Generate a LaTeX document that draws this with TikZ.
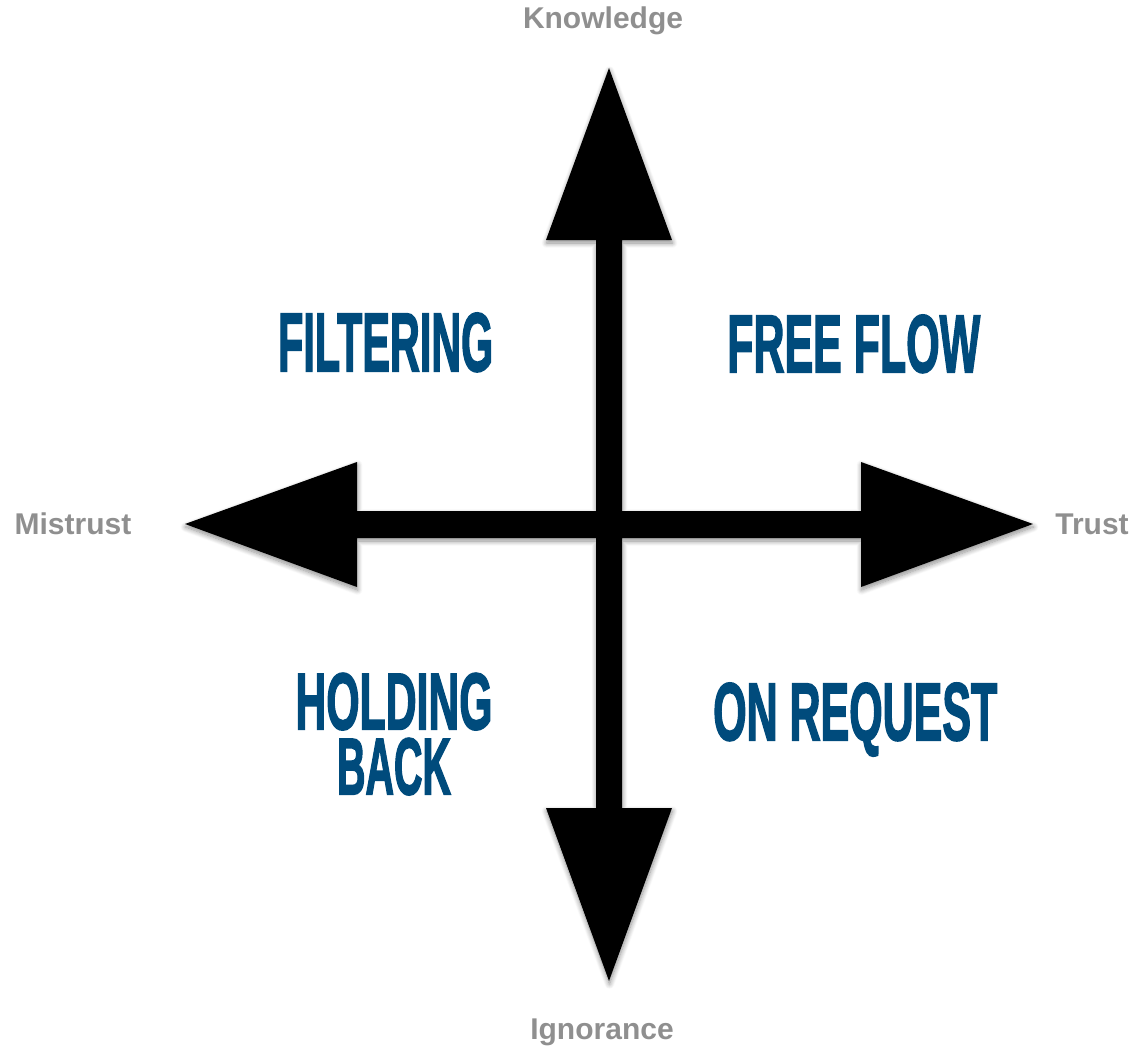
\documentclass[tikz,border=0pt]{standalone}
\usepackage{fontspec}
\setmainfont{Liberation Sans}
\newfontfamily\condfont[FakeBold=2.5]{Liberation Sans Bold}
\usetikzlibrary{shadows.blur}
\definecolor{qblue}{HTML}{004B7C}
\definecolor{axgray}{HTML}{8F8F8F}
\tikzset{
  axislabel/.style={text=axgray, font=\fontsize{30}{34}\selectfont\bfseries, inner sep=0pt},
  quad/.style={text=qblue, font=\condfont, inner sep=0pt, anchor=base west},
  crossshape/.style={fill=black, blur shadow={shadow xshift=0.5pt, shadow yshift=-3pt, shadow blur steps=10, shadow blur radius=5pt, shadow opacity=45}}
}
\begin{document}
\begin{tikzpicture}[x=1pt,y=-1pt]
\useasboundingbox (0,0) rectangle (1137,1054);
% the cross of four arrows
\fill[crossshape]
  (609,68) -- (672,240) -- (622,240) -- (622,511) -- (861,511) -- (861,462)
  -- (1033,524) -- (861,587) -- (861,538) -- (622,538) -- (622,808) -- (672,808)
  -- (609,981) -- (546,808) -- (596,808) -- (596,538) -- (357,538) -- (357,587)
  -- (185,524) -- (357,462) -- (357,511) -- (596,511) -- (596,240) -- (546,240) -- cycle;
% axis labels
\node[axislabel] (know) at (603,21) {Knowledge};
\node[axislabel] (ign) at (602,1032) {Ignorance};
\node[axislabel] (mis) at (73,524) {Mistrust};
\node[axislabel] (tru) at (1092,524) {Trust};
% quadrant labels
\node[quad] (filt) at (278,371) {\resizebox{215pt}{58pt}{FILTERING}};
\node[quad] (free) at (727,372) {\resizebox{253pt}{57pt}{FREE FLOW}};
\node[quad, anchor=north, align=center, font=\condfont\fontsize{10}{65}\selectfont] (hold) at (394,673) {\resizebox{197pt}{56pt}{HOLDING}\\\resizebox{114pt}{56pt}{BACK}};
\node[quad] (onreq) at (713,740) {\resizebox{284pt}{57pt}{ON REQUEST}};
\end{tikzpicture}
\end{document}
